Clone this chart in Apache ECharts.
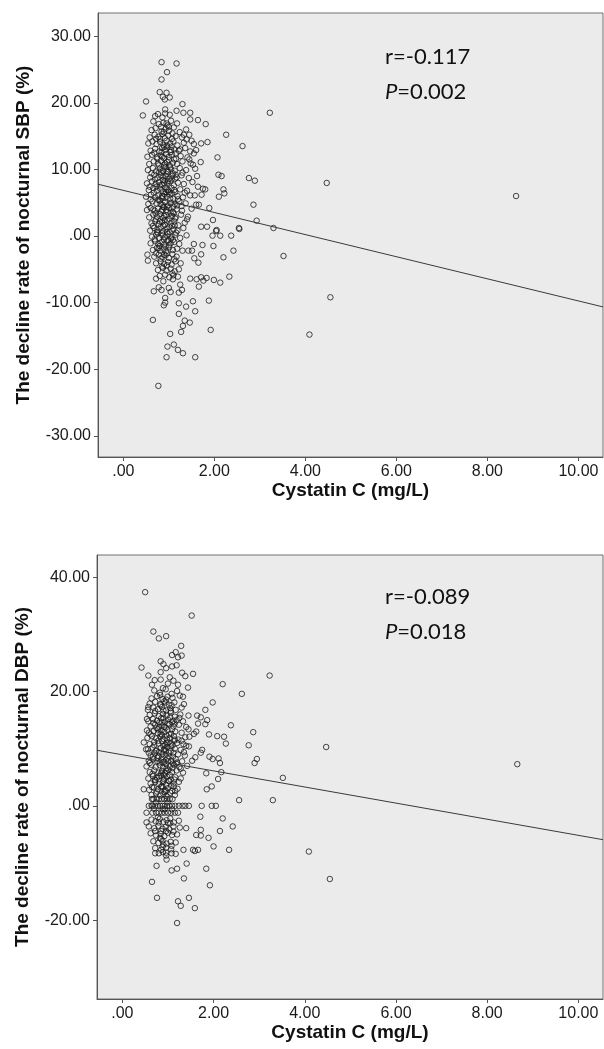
<!DOCTYPE html>
<html><head><meta charset="utf-8">
<script src="https://cdn.jsdelivr.net/npm/echarts/dist/echarts.min.js"></script>
<style>html,body{margin:0;padding:0;background:#fff}#c{width:604px;height:1049px}</style>
</head><body><div id="c"></div><script>
// ---------- data ----------
var xTickValues = [0, 2, 4, 6, 8, 10];
var xTickLabels = ['.00', '2.00', '4.00', '6.00', '8.00', '10.00'];
var sbpTickValues = [-30, -20, -10, 0, 10, 20, 30];
var sbpTickLabels = ['-30.00', '-20.00', '-10.00', '.00', '10.00', '20.00', '30.00'];
var dbpTickValues = [-20, 0, 20, 40];
var dbpTickLabels = ['-20.00', '.00', '20.00', '40.00'];
var xTitle = 'Cystatin C (mg/L)';
var sbpTitle = 'The decline rate of nocturnal SBP (%)';
var dbpTitle = 'The decline rate of nocturnal DBP (%)';
var sbpStats = ['r=-0.117', '0.002'];
var dbpStats = ['r=-0.089', '0.018'];
var sbpFit = [6.85, -1.66];   // intercept, slope
var dbpFit = [8.94, -1.41];

var sbpCore = [
[0.7,18.0],[0.86,17.8],[1.02,18.2],
[0.66,17.2],[0.78,16.8],[0.88,17.0],[0.97,16.6],[1.05,17.3],[1.18,16.9],
[0.62,15.9],[0.71,16.2],[0.84,15.7],[0.93,16.1],[1.0,15.8],[1.11,16.3],[1.24,15.6],[1.38,16.0],
[0.58,14.8],[0.69,15.2],[0.77,14.9],[0.86,15.3],[0.91,14.7],[0.99,15.1],[1.07,14.6],[1.15,15.0],[1.29,14.8],[1.45,15.2],
[0.55,13.9],[0.64,14.2],[0.73,13.8],[0.81,14.1],[0.88,13.7],[0.95,14.3],[1.03,13.9],[1.1,14.2],[1.19,13.6],[1.33,14.0],[1.55,13.8],
[0.6,12.8],[0.7,13.1],[0.79,12.7],[0.85,13.2],[0.92,12.9],[0.97,13.3],[1.04,12.6],[1.12,13.0],[1.22,12.8],[1.36,13.2],[1.6,12.9],
[0.53,11.9],[0.63,12.2],[0.74,11.8],[0.82,12.1],[0.89,11.7],[0.94,12.3],[1.0,11.9],[1.07,12.2],[1.16,11.6],[1.26,12.0],[1.41,11.8],
[0.57,10.8],[0.67,11.2],[0.76,10.9],[0.83,11.3],[0.9,10.7],[0.96,11.1],[1.02,10.6],[1.09,11.0],[1.18,10.8],[1.3,11.2],[1.48,10.9],[1.7,11.1],
[0.54,9.9],[0.65,10.2],[0.72,9.7],[0.8,10.1],[0.87,9.8],[0.93,10.3],[0.98,9.6],[1.05,10.0],[1.13,9.8],[1.24,10.2],[1.38,9.9],[1.58,10.1],
[0.59,8.8],[0.68,9.2],[0.75,8.7],[0.82,9.1],[0.88,8.9],[0.95,9.3],[1.01,8.6],[1.08,9.0],[1.17,8.8],[1.28,9.1],[1.44,8.7],[1.62,9.0],
[0.52,7.9],[0.63,8.2],[0.71,7.8],[0.78,8.1],[0.85,7.7],[0.91,8.3],[0.97,7.9],[1.03,8.2],[1.11,7.6],[1.2,8.0],[1.33,7.8],[1.52,8.1],
[0.56,6.9],[0.66,7.2],[0.74,6.8],[0.81,7.1],[0.87,6.7],[0.93,7.3],[0.99,6.9],[1.06,7.2],[1.14,6.6],[1.25,7.0],[1.4,6.8],[1.75,7.1],
[0.5,5.9],[0.61,6.2],[0.7,5.8],[0.77,6.1],[0.84,5.7],[0.9,6.3],[0.96,5.9],[1.02,6.2],[1.1,5.6],[1.19,6.0],[1.31,5.8],[1.47,6.1],
[0.55,4.8],[0.64,5.2],[0.73,4.9],[0.8,5.3],[0.86,4.7],[0.92,5.1],[0.98,4.6],[1.05,5.0],[1.13,4.8],[1.23,5.2],[1.37,4.9],
[0.52,3.9],[0.6,4.2],[0.69,3.8],[0.76,4.1],[0.83,3.7],[0.89,4.3],[0.95,3.9],[1.01,4.2],[1.09,3.6],[1.17,4.0],[1.29,3.8],[1.5,4.1],
[0.57,2.8],[0.66,3.2],[0.74,2.9],[0.81,3.3],[0.87,2.7],[0.94,3.1],[1.0,2.6],[1.07,3.0],[1.15,2.8],[1.27,3.2],[1.42,2.9],
[0.62,1.9],[0.7,2.2],[0.78,1.8],[0.85,2.1],[0.91,1.7],[0.97,2.3],[1.04,1.9],[1.12,2.2],[1.21,1.6],[1.35,2.0],
[0.59,0.8],[0.68,1.2],[0.75,0.9],[0.82,1.3],[0.88,0.7],[0.95,1.1],[1.02,0.6],[1.1,1.0],[1.19,0.8],[1.32,1.2],
[0.63,-0.1],[0.72,0.2],[0.79,-0.3],[0.86,0.1],[0.92,-0.2],[0.99,0.3],[1.06,-0.1],[1.14,0.2],[1.25,-0.3],[1.39,0.1],
[0.6,-1.1],[0.7,-0.8],[0.77,-1.2],[0.84,-0.9],[0.9,-1.3],[0.97,-0.7],[1.04,-1.1],[1.12,-0.9],[1.23,-1.2],
[0.65,-2.1],[0.74,-1.8],[0.81,-2.2],[0.88,-1.9],[0.94,-2.3],[1.01,-1.7],[1.09,-2.1],[1.18,-1.9],[1.3,-2.2],
[0.68,-3.1],[0.78,-2.8],[0.86,-3.2],[0.93,-2.9],[1.0,-3.3],[1.08,-2.7],[1.17,-3.1],
[0.72,-4.1],[0.82,-3.8],[0.9,-4.2],[0.98,-3.9],[1.06,-4.3],[1.15,-3.8],[1.26,-4.1],
[0.76,-5.1],[0.87,-4.8],[0.95,-5.2],[1.04,-4.9],[1.13,-5.3],[1.22,-5.0],
[0.8,-6.0],[0.92,-5.8],[1.01,-6.2],[1.1,-5.9],[1.2,-6.1],
[0.84,12.6],[0.9,10.4],[0.87,8.4],[0.94,6.6],[0.88,4.4],[0.91,2.4],[0.85,0.4],[0.93,-1.6],[0.96,13.6],[1.0,11.4],
[0.98,8.2],[1.03,5.6],[0.97,3.6],[1.01,1.4],[0.99,-0.6],[0.81,14.6],[0.79,9.6],[0.77,5.4],[0.8,2.2],[0.78,-1.8],
[1.06,13.4],[1.09,9.4],[1.07,6.4],[1.11,3.4],[1.05,-0.4],[0.75,11.6],[0.73,7.4],[0.71,3.4],[0.74,0.6],[1.15,12.4],
[1.14,8.6],[1.18,4.6],[1.13,1.6],[0.89,15.6],[0.93,9.0],[0.85,6.0],[0.9,-2.8],[1.0,16.4],[0.82,-3.4],[0.96,-4.4]
];
var sbpCore2 = [
[0.83,16.4],[0.95,16.9],[1.08,15.4],[0.72,14.6],[0.9,13.4],[1.05,12.9],[0.68,12.5],[0.86,11.9],[1.12,11.5],[0.78,10.6],
[0.92,10.9],[1.03,10.3],[0.62,9.4],[0.84,9.5],[0.97,9.8],[1.15,9.2],[0.7,8.5],[0.9,7.9],[1.06,8.5],[0.58,7.4],
[0.8,7.6],[0.95,7.0],[1.12,6.9],[0.67,6.5],[0.88,5.9],[1.0,6.6],[1.2,5.5],[0.6,5.5],[0.82,4.8],[0.96,4.4],
[1.1,4.4],[0.66,4.0],[0.85,3.9],[1.04,3.5],[0.72,2.5],[0.9,3.0],[1.14,2.6],[0.65,1.5],[0.88,1.5],[1.07,1.5],
[0.76,0.4],[0.96,0.6],[1.16,0.5],[0.69,-0.5],[0.89,-0.5],[1.09,-0.6],[0.8,-1.5],[1.0,-1.4],[0.72,-2.6],[0.96,-2.6],
[1.12,-3.5],[0.85,-4.6],[1.08,-5.6],[0.88,-6.8],[1.3,9.5],[1.35,6.5],[1.28,4.5],[1.4,2.5],[1.45,11.5],[1.25,13.0]
];
var sbpSparse = [
[0.84,26.1],[1.17,25.9],[0.96,24.6],[0.84,23.5],[0.80,21.6],[0.95,21.5],[1.02,20.8],[0.87,20.9],[0.91,20.5],[0.50,20.2],
[1.30,19.8],[0.92,19.0],[1.17,18.8],[0.92,18.4],[1.32,18.5],[1.47,18.5],[0.43,18.1],[0.76,18.3],[3.22,18.5],[1.47,17.5],
[1.64,17.4],[1.81,16.8],[2.26,15.2],[1.85,14.1],[1.71,13.9],[2.62,13.5],[2.07,11.8],[2.09,9.2],[2.16,9.0],[2.76,8.7],
[2.89,8.3],[2.20,7.0],[2.22,6.4],[2.10,5.9],[2.86,4.7],[2.93,2.3],[3.30,1.2],[2.54,1.2],[2.05,0.9],[1.97,2.4],
[1.84,1.4],[1.71,1.4],[1.89,4.2],[1.66,4.7],[1.60,4.7],[1.72,6.2],[1.57,6.1],[1.80,7.0],[1.64,7.4],[1.53,10.7],
[1.55,12.4],[1.47,12.7],[1.39,14.5],[1.50,14.3],[1.33,15.2],
[2.04,0.75],[2.55,1.05],[1.96,0.05],[2.13,0.05],[2.37,0.05],[2.42,-2.2],[2.20,-3.2],[1.98,-1.5],[1.55,-1.2],[1.74,-1.35],
[1.51,-2.2],[1.43,-2.2],[1.71,-2.75],[1.56,-3.35],[1.65,-4.0],[0.53,-2.8],[0.54,-3.7],[0.72,-6.4],[0.67,-8.3],[0.78,-7.7],
[0.84,-8.1],[1.00,-7.8],[1.04,-8.4],[0.92,-9.3],[0.92,-10.0],[0.89,-10.4],[1.22,-8.5],[1.25,-7.3],[1.29,-8.1],[1.09,-6.5],
[1.47,-6.4],[1.61,-6.5],[1.71,-6.2],[1.76,-6.7],[1.83,-6.3],[1.99,-6.6],[2.13,-7.0],[2.33,-6.1],[1.66,-7.6],[1.88,-9.7],
[1.53,-9.8],[1.22,-10.1],[1.38,-10.6],[1.58,-11.3],[1.22,-11.7],[0.65,-12.6],[1.35,-12.7],[1.46,-13.0],[1.31,-13.5],[1.92,-14.1],
[1.27,-14.4],[1.03,-14.7],[1.11,-16.3],[0.97,-16.6],[1.20,-17.1],[1.31,-17.6],[0.95,-18.2],[1.58,-18.2],[0.77,-22.5],
[4.47,7.96],[8.63,6.0],[3.52,-3.0],[4.55,-9.2],[4.09,-14.8]
];

var dbpCore = [
[0.7,20.2],[0.82,19.8],[0.95,20.4],[1.08,19.6],[1.2,20.1],
[0.64,18.8],[0.76,19.2],[0.88,18.7],[0.99,19.1],[1.1,18.9],[1.26,19.3],
[0.6,17.9],[0.72,18.2],[0.83,17.8],[0.92,18.3],[1.02,17.7],[1.14,18.1],[1.35,17.8],
[0.56,16.8],[0.68,17.2],[0.78,16.9],[0.87,17.3],[0.96,16.7],[1.05,17.1],[1.17,16.8],[1.3,17.2],
[0.6,15.9],[0.71,16.2],[0.8,15.7],[0.89,16.1],[0.97,15.8],[1.06,16.3],[1.15,15.6],[1.27,16.0],[1.45,15.8],
[0.57,14.8],[0.67,15.2],[0.76,14.9],[0.85,15.3],[0.93,14.7],[1.0,15.1],[1.09,14.6],[1.19,15.0],[1.33,14.8],
[0.62,13.9],[0.72,14.2],[0.81,13.8],[0.88,14.1],[0.95,13.7],[1.03,14.3],[1.12,13.9],[1.24,14.2],[1.4,13.8],
[0.58,12.8],[0.69,13.1],[0.78,12.7],[0.86,13.2],[0.92,12.9],[0.99,13.3],[1.07,12.6],[1.16,13.0],[1.3,12.8],
[0.55,11.9],[0.65,12.2],[0.74,11.8],[0.83,12.1],[0.9,11.7],[0.97,12.3],[1.04,11.9],[1.13,12.2],[1.23,11.6],[1.38,12.0],
[0.6,10.8],[0.7,11.2],[0.79,10.9],[0.87,11.3],[0.94,10.7],[1.01,11.1],[1.1,10.6],[1.2,11.0],[1.34,10.8],
[0.56,9.9],[0.66,10.2],[0.75,9.7],[0.84,10.1],[0.91,9.8],[0.98,10.3],[1.06,9.6],[1.15,10.0],[1.28,9.8],
[0.62,8.8],[0.71,9.2],[0.8,8.7],[0.88,9.1],[0.95,8.9],[1.02,9.3],[1.11,8.6],[1.22,9.0],[1.37,8.8],
[0.58,7.9],[0.68,8.2],[0.77,7.8],[0.85,8.1],[0.92,7.7],[0.99,8.3],[1.07,7.9],[1.17,8.2],[1.31,7.8],
[0.53,6.9],[0.64,7.2],[0.73,6.8],[0.82,7.1],[0.89,6.7],[0.96,7.3],[1.04,6.9],[1.13,7.2],[1.25,6.8],[1.42,7.0],
[0.6,5.9],[0.7,6.2],[0.79,5.8],[0.87,6.1],[0.94,5.7],[1.01,6.3],[1.09,5.9],[1.19,6.2],[1.33,5.8],
[0.57,4.8],[0.67,5.2],[0.76,4.9],[0.84,5.3],[0.91,4.7],[0.98,5.1],[1.06,4.6],[1.16,5.0],[1.28,4.8],
[0.62,3.9],[0.72,4.2],[0.81,3.8],[0.89,4.1],[0.96,3.7],[1.03,4.3],[1.12,3.9],[1.24,4.2],
[0.59,2.8],[0.69,3.2],[0.78,2.9],[0.86,3.3],[0.93,2.7],[1.0,3.1],[1.09,2.6],[1.21,3.0],
[0.64,1.9],[0.74,2.2],[0.83,1.8],[0.9,2.1],[0.97,1.7],[1.05,2.3],[1.15,1.9],
[0.68,1.2],[0.75,1.2],[0.8,1.2],[0.86,1.2],[0.92,1.2],[0.98,1.2],[1.04,1.2],[1.1,1.2],
[0.58,0],[0.66,0],[0.72,0],[0.78,0],[0.83,0],[0.88,0],[0.93,0],[0.98,0],[1.03,0],[1.09,0],[1.16,0],[1.24,0],[1.32,0],[1.38,0],
[0.66,-1.2],[0.74,-1.2],[0.8,-1.2],[0.87,-1.2],[0.93,-1.2],[1.0,-1.2],[1.07,-1.2],[1.15,-1.2],[1.22,-1.2],
[0.64,-2.4],[0.73,-2.7],[0.82,-2.3],[0.9,-2.8],[0.97,-2.5],[1.05,-2.2],[1.13,-2.9],[1.24,-2.6],
[0.58,-3.6],[0.7,-3.9],[0.79,-3.5],[0.88,-4.0],[0.95,-3.7],[1.03,-4.1],[1.12,-3.6],[1.26,-3.8],[1.4,-3.9],
[0.62,-4.8],[0.74,-5.2],[0.84,-4.9],[0.92,-5.3],[1.0,-4.7],[1.09,-5.1],[1.2,-5.0],
[0.68,-6.2],[0.79,-6.5],[0.88,-6.1],[0.97,-6.6],[1.06,-6.3],[1.17,-6.4],
[0.72,-7.4],[0.85,-7.7],[0.96,-7.3],[1.07,-7.6],
[0.84,17.6],[0.9,15.4],[0.87,12.4],[0.93,10.0],[0.88,7.6],[0.91,5.4],[0.85,3.4],[0.93,-0.6],[0.96,18.6],[1.0,14.4],
[0.98,11.6],[1.03,8.6],[0.97,6.6],[1.01,4.4],[0.99,0.6],[0.81,14.6],[0.79,11.4],[0.77,8.4],[0.8,5.2],[0.78,-2.0],
[1.06,16.6],[1.09,13.4],[1.07,10.4],[1.11,7.4],[1.05,-3.0],[0.75,13.6],[0.73,9.6],[0.71,4.6],[0.74,0.6],[1.15,14.4],
[1.14,11.4],[1.18,7.4],[1.13,3.4],[0.89,20.6],[0.93,2.4],[0.85,-4.4],[0.9,-6.8],[1.0,21.4],[0.82,-5.6],[0.96,-8.2]
];
var dbpCore2 = [
[0.83,19.4],[0.95,18.1],[1.08,17.6],[0.72,16.6],[0.9,16.7],[1.05,15.5],[0.68,14.5],[0.86,14.6],[1.12,14.9],[0.78,13.4],
[0.92,13.8],[1.03,12.5],[0.62,12.5],[0.84,12.6],[0.97,11.0],[1.15,11.6],[0.7,10.6],[0.9,10.5],[1.06,10.9],[0.58,9.3],
[0.8,9.4],[0.95,9.6],[1.12,9.3],[0.67,8.6],[0.88,8.6],[1.0,7.8],[1.2,7.6],[0.6,7.5],[0.82,7.6],[0.96,6.1],
[1.1,6.6],[0.66,5.6],[0.85,5.7],[1.04,5.4],[0.72,4.5],[0.9,4.4],[1.14,4.6],[0.65,3.3],[0.88,3.4],[1.07,3.5],
[0.76,2.5],[0.96,2.6],[1.16,2.6],[0.69,-0.5],[0.89,-0.6],[1.09,-0.6],[0.8,-2.9],[1.0,-3.0],[0.72,-4.4],[0.96,-4.4],
[1.12,-4.5],[0.85,-5.8],[1.08,-7.0],[0.88,-7.2],[1.3,11.4],[1.35,9.4],[1.28,6.5],[1.4,10.5],[1.45,13.4],[1.25,15.4]
];
var dbpSparse = [
[0.50,37.4],[1.52,33.3],[0.68,30.5],[0.80,29.3],[0.96,29.7],[1.29,28.0],[1.17,26.9],[1.09,26.4],[1.22,26.0],[1.30,26.3],
[0.84,25.3],[0.90,24.8],[0.96,24.1],[1.09,24.4],[1.19,24.6],[0.42,24.2],[0.84,23.4],[1.31,23.3],[1.38,22.7],[1.55,23.1],
[0.57,22.8],[0.71,22.0],[0.84,22.1],[1.04,22.5],[1.12,21.9],[3.23,22.8],[2.20,21.3],[2.62,19.6],[1.44,20.7],[1.22,21.2],
[1.33,19.1],[1.98,18.1],[1.82,16.8],[1.64,15.8],[1.72,15.5],[1.86,15.0],[1.82,14.3],[1.66,14.4],[2.38,14.1],[2.87,12.9],
[1.90,12.5],[2.08,12.2],[2.23,12.1],[2.27,10.9],[2.77,10.6],[1.62,13.0],[1.57,12.6],[1.47,12.1],[1.46,10.4],[1.75,9.8],
[1.72,9.3],[1.60,8.5],[1.53,7.9],[1.91,8.6],[2.11,8.3],[2.14,7.5],[1.98,8.2],[2.95,8.2],[2.90,7.5],[0.47,11.1],
[0.54,15.2],[0.57,17.3],[0.65,21.2],[0.54,13.2],[0.52,9.9],
[1.84,5.7],[2.17,5.9],[2.10,4.7],[1.96,3.4],[1.85,2.9],[2.56,1.0],[3.30,1.0],[1.74,0],[1.96,0],[2.05,0],
[1.46,0],[2.20,-2.2],[2.42,-3.6],[2.14,-4.4],[1.71,-1.9],[1.72,-4.2],[1.62,-5.1],[1.72,-5.2],[1.89,-5.6],[2.00,-7.1],
[2.34,-7.7],[1.55,-7.7],[1.66,-7.7],[1.59,-7.9],[1.41,-10.1],[1.84,-11.0],[1.20,-11.0],[1.08,-11.3],[1.35,-12.7],[0.75,-10.5],
[0.65,-13.3],[1.92,-13.9],[0.76,-16.1],[1.22,-16.7],[1.28,-17.5],[1.46,-16.1],[1.59,-17.9],[1.20,-20.5],[1.17,-8.4],[1.08,-8.3],
[0.97,-9.4],[0.96,-8.7],[0.89,-8.1],[0.72,-8.3],[0.80,-8.3],[1.34,-7.7],[0.53,-1.2],[0.53,-2.9],[0.47,2.9],[0.65,1.2],[0.64,0.05],
[4.47,10.3],[8.66,7.3],[3.52,4.9],[4.09,-8.0],[4.55,-12.8]
];

// ---------- layout ----------
var X_RANGE = [-0.556, 10.54];
var SBP_RANGE = [-33.18, 33.48];
var DBP_RANGE = [-33.8, 43.9];

function fitLine(fit) {
  return [[X_RANGE[0], fit[0] + fit[1] * X_RANGE[0]], [X_RANGE[1], fit[0] + fit[1] * X_RANGE[1]]];
}
function fmt(values, labels) { return function (v) { var i = values.indexOf(v); return i >= 0 ? labels[i] : ''; }; }

var FONT = '"Liberation Sans", Arial, sans-serif';
function xAxisCfg(gi) {
  return {
    type: 'value', gridIndex: gi, min: X_RANGE[0], max: X_RANGE[1],
    axisLine: { show: true, onZero: false, lineStyle: { color: '#555', width: 1 } },
    axisTick: { show: true, customValues: xTickValues, length: 4, lineStyle: { color: '#555' } },
    axisLabel: { customValues: xTickValues, formatter: fmt(xTickValues, xTickLabels), fontSize: 16, color: '#1a1a1a', fontFamily: FONT, margin: 7 },
    splitLine: { show: false },
    name: xTitle, nameLocation: 'middle', nameGap: 30,
    nameTextStyle: { fontSize: 19, fontWeight: 'bold', color: '#111', fontFamily: FONT, verticalAlign: 'middle' }
  };
}
function yAxisCfg(gi, range, vals, labs, title) {
  return {
    type: 'value', gridIndex: gi, min: range[0], max: range[1],
    axisLine: { show: true, onZero: false, lineStyle: { color: '#555', width: 1 } },
    axisTick: { show: true, customValues: vals, length: 4, lineStyle: { color: '#555' } },
    axisLabel: { customValues: vals, formatter: fmt(vals, labs), fontSize: 16, color: '#1a1a1a', fontFamily: FONT, margin: 7 },
    splitLine: { show: false },
    name: title, nameLocation: 'middle', nameGap: 74,
    nameTextStyle: { fontSize: 19, fontWeight: 'bold', color: '#111', fontFamily: FONT, verticalAlign: 'middle' }
  };
}
var dotStyle = { color: 'rgba(0,0,0,0)', borderColor: '#1c1c1c', borderWidth: 1 };
function scatter(gi, data) {
  return { type: 'scatter', xAxisIndex: gi, yAxisIndex: gi, data: data, symbol: 'circle', symbolSize: 5.5,
    itemStyle: dotStyle, silent: true, z: 3 };
}
function line(gi, data) {
  return { type: 'line', xAxisIndex: gi, yAxisIndex: gi, data: data, symbol: 'none',
    lineStyle: { color: '#3a3a3a', width: 1 }, silent: true, z: 4, clip: true };
}
function statText(y, s) {
  return [
    { type: 'text', x: 385, y: y, z: 10, style: { text: s[0], font: '22px Lato, "Open Sans", sans-serif', fill: '#111', verticalAlign: 'middle' } },
    { type: 'text', x: 385, y: y + 35, z: 10, style: { text: '{i|P}=' + s[1], fill: '#111', verticalAlign: 'middle',
        font: '22px Lato, "Open Sans", sans-serif',
        rich: { i: { fontStyle: 'italic', fontSize: 22, fontFamily: 'Lato, "Open Sans", sans-serif', fill: '#111' } } } }
  ];
}

var chart = echarts.init(document.getElementById('c'), null, { renderer: 'canvas' });
chart.setOption({
  animation: false,
  backgroundColor: '#ffffff',
  grid: [
    { left: 98, top: 13, width: 505, height: 444, show: true, backgroundColor: '#ebebeb', borderColor: '#707070', borderWidth: 1 },
    { left: 97, top: 555, width: 506, height: 444, show: true, backgroundColor: '#ebebeb', borderColor: '#707070', borderWidth: 1 }
  ],
  xAxis: [xAxisCfg(0), xAxisCfg(1)],
  yAxis: [yAxisCfg(0, SBP_RANGE, sbpTickValues, sbpTickLabels, sbpTitle),
          yAxisCfg(1, DBP_RANGE, dbpTickValues, dbpTickLabels, dbpTitle)],
  series: [
    scatter(0, sbpCore), scatter(0, sbpCore2), scatter(0, sbpSparse), line(0, fitLine(sbpFit)),
    scatter(1, dbpCore), scatter(1, dbpCore2), scatter(1, dbpSparse), line(1, fitLine(dbpFit))
  ],
  graphic: statText(57, sbpStats).concat(statText(597, dbpStats))
});
</script></body></html>
